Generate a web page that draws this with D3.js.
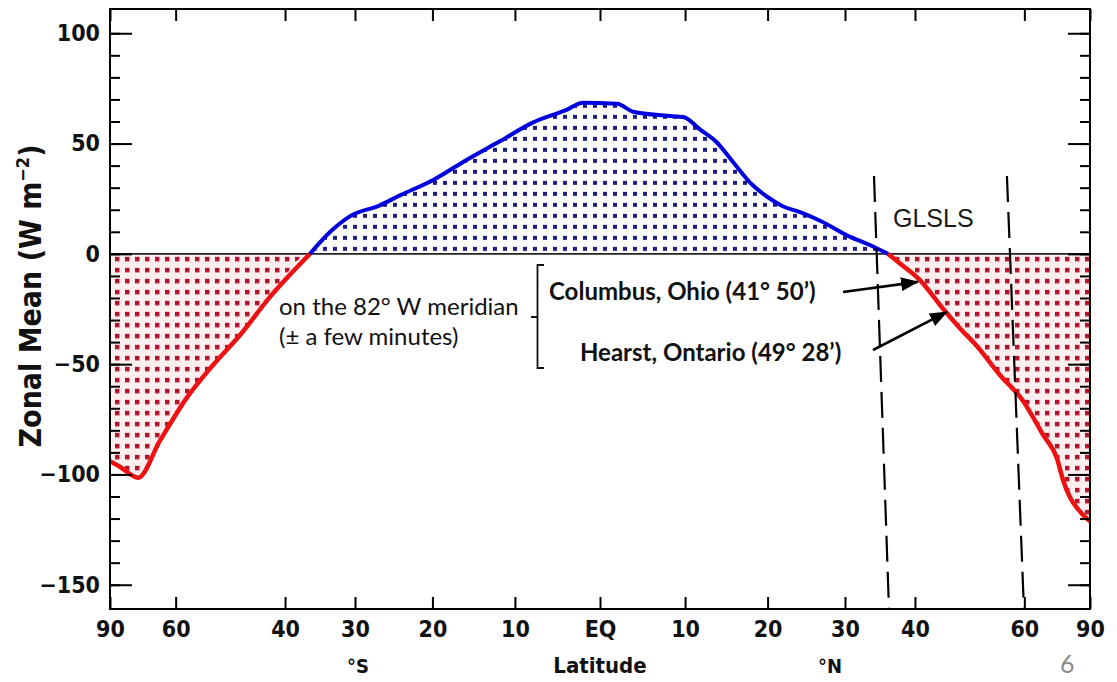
<!DOCTYPE html>
<html><head><meta charset="utf-8">
<script src="https://cdn.jsdelivr.net/npm/d3@7"></script>
<style>body{margin:0;background:#fff}</style>
</head><body><svg id="c" width="1117" height="682"></svg>
<script>
// ---- data ----
const latitudes = [-90, -78.5, -70.5, -63.9, -57.5, -52.2, -47.3, -42.3, -36.3, -33.4, -30.7, -26.7, -24.1, -19.9, -15.7, -11.8, -7.9, -3.9, -2.0, 2.0, 3.9, 7.9, 9.8, 11.8, 13.8, 15.8, 17.8, 19.9, 21.9, 24.1, 26.7, 30.7, 33.4, 36.0, 37.8, 40.8, 44.4, 47.3, 50.3, 54.7, 59.7, 64.7, 68.9, 70.9, 73.6, 78.4, 90];
const zonalMean = [-94, -96.5, -101.5, -84.7, -65.3, -50.5, -36.9, -19.4, 0, 10, 17, 22, 26.5, 33.5, 42.8, 51, 59.5, 65.3, 68.5, 68, 64.4, 62.6, 62, 56.3, 50.5, 41.4, 32.4, 26, 21.6, 18.9, 15, 7.7, 4, 0, -4.5, -12, -24.8, -33.8, -41.9, -54.9, -66.7, -82, -93, -102.5, -110.5, -116.8, -121.3];
const xTickLats = [-90, -60, -40, -30, -20, -10, 0, 10, 20, 30, 40, 60, 90];
const xTickLabels = ["90", "60", "40", "30", "20", "10", "EQ", "10", "20", "30", "40", "60", "90"];
const yTickValues = [-150, -100, -50, 0, 50, 100];
const yTickLabels = ["\u2212150", "\u2212100", "\u221250", "0", "50", "100"];
const glslsTopLats = [34.0, 56.15];
const glslsBottomLats = [36.14, 59.9];
const glslsValueRange = [35.3, -161];
const arrowFrom = [[29.73, -17.3], [33.86, -43.6]];
const arrowTo = [[40.47, -12.7], [45.08, -26.3]];

// ---- layout ----
const L = 110, R = 1090, T = 9, B = 609;
const svg = d3.select("#c");
const x = d3.scaleLinear().domain([-1, 1]).range([L, R]);
const y = d3.scaleLinear().domain([-161, 111]).range([B, T]);
const rad = Math.PI / 180;
const X = lat => x(Math.sin(lat * rad));
const y0 = y(0);
const data = latitudes.map((l, i) => ({lat: l, v: zonalMean[i]}));
const crossS = -36.3, crossN = 36.0;

const defs = svg.append("defs");
defs.append("clipPath").attr("id", "plot").append("rect")
  .attr("x", L).attr("y", T).attr("width", R - L).attr("height", B - T);
const pb = defs.append("pattern").attr("id", "bluedots").attr("patternUnits", "userSpaceOnUse")
  .attr("x", L).attr("y", y0).attr("width", 10).attr("height", 11);
pb.append("rect").attr("x", 3).attr("y", 4).attr("width", 4).attr("height", 4).attr("fill", "#1e1e84");
const pr = defs.append("pattern").attr("id", "reddots").attr("patternUnits", "userSpaceOnUse")
  .attr("x", L).attr("y", y0).attr("width", 10).attr("height", 11);
pr.append("rect").attr("width", 10).attr("height", 11).attr("fill", "#fdeef0");
pr.append("rect").attr("x", 5).attr("y", 3).attr("width", 4.5).attr("height", 4.5).attr("fill", "#b0142a");
defs.append("marker").attr("id", "ah").attr("markerUnits", "userSpaceOnUse")
  .attr("viewBox", "0 0 18 14").attr("markerWidth", 18).attr("markerHeight", 14)
  .attr("refX", 17).attr("refY", 7).attr("orient", "auto")
  .append("path").attr("d", "M0,0L18,7L0,14Z").attr("fill", "#000");

const g = svg.append("g").attr("clip-path", "url(#plot)");
const areaPos = d3.area().x(d => X(d.lat)).y0(y0).y1(d => y(Math.max(0, d.v))).curve(d3.curveMonotoneX);
const areaNeg = d3.area().x(d => X(d.lat)).y0(y0).y1(d => y(Math.min(0, d.v))).curve(d3.curveMonotoneX);
g.append("path").datum(data).attr("d", areaPos).attr("fill", "url(#bluedots)");
g.append("path").datum(data).attr("d", areaNeg).attr("fill", "url(#reddots)");

// zero line
g.append("line").attr("x1", L).attr("x2", R).attr("y1", y0).attr("y2", y0)
  .attr("stroke", "#222").attr("stroke-width", 1.6);

const line = d3.line().x(d => X(d.lat)).y(d => y(d.v)).curve(d3.curveMonotoneX);
g.append("path").datum(data.filter(d => d.lat <= crossS)).attr("d", line)
  .attr("fill", "none").attr("stroke", "#ee1111").attr("stroke-width", 4.5).attr("stroke-linejoin", "round");
g.append("path").datum(data.filter(d => d.lat >= crossN)).attr("d", line)
  .attr("fill", "none").attr("stroke", "#ee1111").attr("stroke-width", 4.5).attr("stroke-linejoin", "round");
g.append("path").datum(data.filter(d => d.lat >= crossS && d.lat <= crossN)).attr("d", line)
  .attr("fill", "none").attr("stroke", "#0000dd").attr("stroke-width", 4).attr("stroke-linejoin", "round");

// axes
const tickFont = "'DejaVu Sans Condensed','DejaVu Sans',sans-serif";
function styleAxis(sel) {
  sel.select(".domain").remove();
  sel.selectAll(".tick line").attr("stroke", "#000").attr("stroke-width", 2);
  sel.selectAll(".tick text").attr("fill", "#111").style("font-family", tickFont)
    .style("font-size", "23px").style("font-weight", "bold").style("font-stretch", "condensed");
}
const sinT = xTickLats.map(l => Math.sin(l * rad));
svg.append("g").attr("transform", `translate(0,${B})`)
  .call(d3.axisBottom(x).tickValues(sinT).tickFormat((d, i) => xTickLabels[i]).tickSizeInner(-12).tickSizeOuter(0).tickPadding(12))
  .call(styleAxis);
svg.append("g").attr("transform", `translate(0,${T})`)
  .call(d3.axisTop(x).tickValues(sinT).tickFormat("").tickSizeInner(-12).tickSizeOuter(0))
  .call(styleAxis);
const minor = d3.range(-150, 101, 10);
svg.append("g").attr("transform", `translate(${L},0)`)
  .call(d3.axisLeft(y).tickValues(minor).tickFormat("").tickSizeInner(-10).tickSizeOuter(0)).call(styleAxis);
svg.append("g").attr("transform", `translate(${L},0)`)
  .call(d3.axisLeft(y).tickValues(yTickValues).tickFormat((d, i) => yTickLabels[i]).tickSizeInner(-22).tickSizeOuter(0).tickPadding(10))
  .call(styleAxis);
svg.append("g").attr("transform", `translate(${R},0)`)
  .call(d3.axisRight(y).tickValues(minor).tickFormat("").tickSizeInner(-10).tickSizeOuter(0)).call(styleAxis);
svg.append("g").attr("transform", `translate(${R},0)`)
  .call(d3.axisRight(y).tickValues(yTickValues).tickFormat("").tickSizeInner(-22).tickSizeOuter(0)).call(styleAxis);

// frame
svg.append("rect").attr("x", L).attr("y", T).attr("width", R - L).attr("height", B - T)
  .attr("fill", "none").attr("stroke", "#000").attr("stroke-width", 2);

// axis titles
const titleStyle = s => s.style("font-family", tickFont).style("font-weight", "bold").style("font-stretch", "condensed").attr("fill", "#111");
svg.append("text").attr("x", 600).attr("y", 673).attr("text-anchor", "middle").style("font-size", "22px").text("Latitude").call(titleStyle);
svg.append("text").attr("x", 358).attr("y", 673).attr("text-anchor", "middle").style("font-size", "20px").text("\u00b0S").call(titleStyle);
svg.append("text").attr("x", 830).attr("y", 673).attr("text-anchor", "middle").style("font-size", "20px").text("\u00b0N").call(titleStyle);
const yt = svg.append("text").attr("transform", "translate(41,296) rotate(-90)").attr("text-anchor", "middle")
  .style("font-size", "30px").call(titleStyle);
yt.append("tspan").text("Zonal Mean (W m");
yt.append("tspan").attr("dy", -12).style("font-size", "18px").text("\u22122");
yt.append("tspan").attr("dy", 12).text(")");

// GLSLS dashed lines
glslsTopLats.forEach((t, i) => {
  svg.append("line").attr("x1", X(t)).attr("y1", y(glslsValueRange[0]))
    .attr("x2", X(glslsBottomLats[i])).attr("y2", y(glslsValueRange[1]))
    .attr("stroke", "#000").attr("stroke-width", 2.2).attr("stroke-dasharray", "26,10");
});
svg.append("text").attr("x", 893).attr("y", 227).style("font-family", "'Liberation Sans',Arial,sans-serif")
  .style("font-size", "25px").attr("fill", "#1a1a1a").text("GLSLS");

// arrows
arrowFrom.forEach((f, i) => {
  svg.append("line").attr("x1", X(f[0])).attr("y1", y(f[1]))
    .attr("x2", X(arrowTo[i][0])).attr("y2", y(arrowTo[i][1]))
    .attr("stroke", "#000").attr("stroke-width", 2.6).attr("marker-end", "url(#ah)");
});

// annotations
const annFont = "Lato,'Open Sans',sans-serif";
svg.append("text").attr("x", 279).attr("y", 315).style("font-family", annFont).style("font-size", "24px").attr("fill", "#111").text("on the 82\u00b0 W meridian");
svg.append("text").attr("x", 279).attr("y", 345).style("font-family", annFont).style("font-size", "24px").attr("fill", "#111").text("(\u00b1 a few minutes)");
svg.append("text").attr("x", 549).attr("y", 300).style("font-family", annFont).style("font-size", "24px").style("font-weight", "bold").attr("fill", "#111").text("Columbus, Ohio (41\u00b0 50\u2019)");
svg.append("text").attr("x", 580).attr("y", 361).style("font-family", annFont).style("font-size", "24px").style("font-weight", "bold").attr("fill", "#111").text("Hearst, Ontario (49\u00b0 28\u2019)");
svg.append("path").attr("d", "M544,265H537.5V368H544M537.5,317H531")
  .attr("fill", "none").attr("stroke", "#111").attr("stroke-width", 1.8);
svg.append("text").attr("x", 1060).attr("y", 673).style("font-family", annFont).style("font-size", "25px").attr("fill", "#8a8a8a").text("6");
</script></body></html>
